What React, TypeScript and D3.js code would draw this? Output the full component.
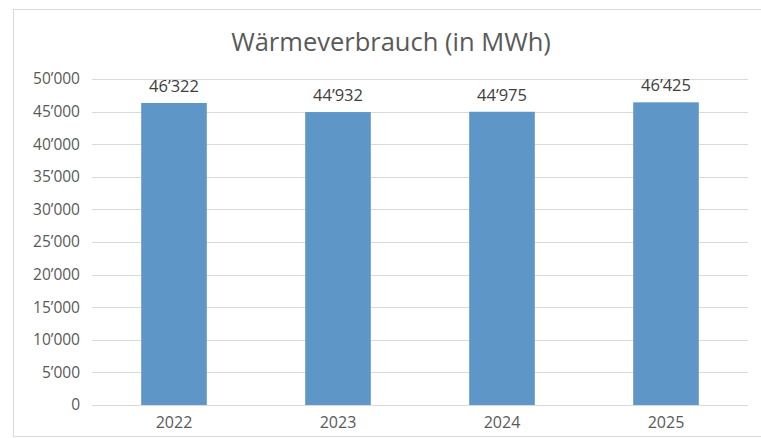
import { useEffect, useRef } from "react";
import * as d3 from "d3";

const years = ["2022", "2023", "2024", "2025"];
const values = [46322, 44932, 44975, 46425];
const yTicks = [0, 5000, 10000, 15000, 20000, 25000, 30000, 35000, 40000, 45000, 50000];
const title = "Wärmeverbrauch (in MWh)";

const W = 761;
const H = 438;
const fmt = (v: number) => d3.format(",")(v).replace(/,/g, "’");

const App = () => {
  const svgRef = useRef<SVGSVGElement>(null);

  useEffect(() => {
    const svg = d3.select(svgRef.current);
    svg.selectAll("*").remove();

    const margin = { left: 92, right: 13, top: 79, bottom: 33 };
    const font = "'Open Sans', sans-serif";

    // frame
    svg
      .append("rect")
      .attr("x", 13.5)
      .attr("y", 9.5)
      .attr("width", W)
      .attr("height", 427)
      .attr("fill", "#fff")
      .attr("stroke", "#d9d9d9");

    const x = d3
      .scaleBand()
      .domain(years)
      .range([margin.left, W - margin.right])
      .paddingInner(0.6)
      .paddingOuter(0.3);

    const y = d3.scaleLinear().domain([0, 50000]).range([H - margin.bottom, margin.top]);

    // gridlines
    svg
      .append("g")
      .selectAll("line")
      .data(yTicks)
      .join("line")
      .attr("x1", margin.left)
      .attr("x2", W - margin.right)
      .attr("y1", (d) => Math.round(y(d)) + 0.5)
      .attr("y2", (d) => Math.round(y(d)) + 0.5)
      .attr("stroke", "#d9d9d9")
      .attr("stroke-width", 1);

    // y labels
    svg
      .append("g")
      .selectAll("text")
      .data(yTicks)
      .join("text")
      .attr("x", 80)
      .attr("y", (d) => y(d))
      .attr("dy", "0.35em")
      .attr("text-anchor", "end")
      .attr("font-family", font)
      .attr("font-size", 15.5)
      .attr("fill", "#595959")
      .text((d) => fmt(d));

    // bars
    svg
      .append("g")
      .selectAll("rect")
      .data(values)
      .join("rect")
      .attr("x", (d, i) => x(years[i])!)
      .attr("y", (d) => y(d))
      .attr("width", x.bandwidth())
      .attr("height", (d) => y(0) - y(d))
      .attr("fill", "#5f96c8");

    // value labels
    svg
      .append("g")
      .selectAll("text")
      .data(values)
      .join("text")
      .attr("x", (d, i) => x(years[i])! + x.bandwidth() / 2)
      .attr("y", (d) => y(d) - 11)
      .attr("text-anchor", "middle")
      .attr("font-family", font)
      .attr("font-size", 16.5)
      .attr("fill", "#404040")
      .text((d) => fmt(d));

    // x labels
    svg
      .append("g")
      .selectAll("text")
      .data(years)
      .join("text")
      .attr("x", (d) => x(d)! + x.bandwidth() / 2)
      .attr("y", y(0) + 23)
      .attr("text-anchor", "middle")
      .attr("font-family", font)
      .attr("font-size", 16)
      .attr("fill", "#595959")
      .text((d) => d);

    // title
    svg
      .append("text")
      .attr("x", 391)
      .attr("y", 51)
      .attr("text-anchor", "middle")
      .attr("font-family", font)
      .attr("font-size", 25.5)
      .attr("fill", "#595959")
      .text(title);
  }, []);

  return (
    <svg
      ref={svgRef}
      width={W}
      height={H}
      style={{ position: "absolute", left: 0, top: 0, display: "block", background: "#fff" }}
    ></svg>
  );
};

export default App;
